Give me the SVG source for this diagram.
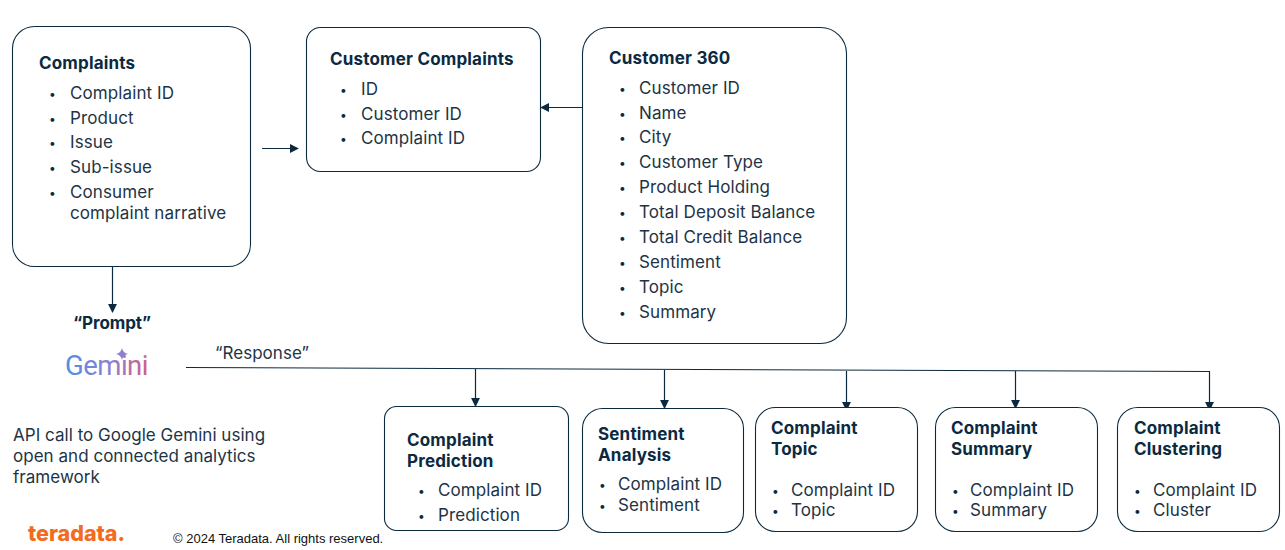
<svg xmlns="http://www.w3.org/2000/svg" width="1285" height="550" viewBox="0 0 1285 550">
<style>
text{font-family:Inter,"Noto Sans",sans-serif;fill:#1d3446;font-size:17px;letter-spacing:.1px}
.t{font-weight:700;fill:#0b2a3f;letter-spacing:.18px}
.d{font-size:12px;fill:#0b2a3f}
.n{letter-spacing:.03px}
.box{fill:#fff;stroke:#0b2a3f;stroke-width:1.1}
.c{fill:none;stroke:#0b2a3f;stroke-width:1.2}
</style>
<defs>
<marker id="a" viewBox="0 0 10 10" refX="9" refY="5" markerWidth="9" markerHeight="9" markerUnits="userSpaceOnUse" orient="auto"><path d="M0 0L10 5L0 10Z" fill="#0b2a3f"/></marker>
<linearGradient id="g" x1="0" x2="1" y1="0" y2="0"><stop offset="0" stop-color="#4f8fe0"/><stop offset=".55" stop-color="#8f7fd0"/><stop offset="1" stop-color="#d0607f"/></linearGradient>
</defs>
<g id="connectors">
<path class="c" d="M262 148.500H298" marker-end="url(#a)"/>
<path class="c" d="M582 107.500H541" marker-end="url(#a)"/>
<path class="c" d="M112.500 267V312" marker-end="url(#a)"/>
<path class="c" d="M186 367.500L1210 371.500"/>
<path class="c" d="M475.500 369V406" marker-end="url(#a)"/>
<path class="c" d="M664.500 370V408" marker-end="url(#a)"/>
<path class="c" d="M846.500 371V410" marker-end="url(#a)"/>
<path class="c" d="M1015.500 371V408" marker-end="url(#a)"/>
<path class="c" d="M1209.500 371V410" marker-end="url(#a)"/>
</g>
<g id="complaints"><rect class="box" x="12.500" y="26.500" width="238" height="240" rx="22"/>
<text class="t" x="39" y="69">Complaints</text>
<text class="d" x="49" y="98">•</text><text x="70" y="99">Complaint ID</text>
<text class="d" x="49" y="123">•</text><text x="70" y="124">Product</text>
<text class="d" x="49" y="147">•</text><text x="70" y="148">Issue</text>
<text class="d" x="49" y="172">•</text><text x="70" y="173">Sub-issue</text>
<text class="d" x="49" y="197">•</text><text x="70" y="198">Consumer</text>
<text x="70" y="219">complaint narrative</text></g>
<g id="customer-complaints"><rect class="box" x="306.500" y="27.500" width="234" height="144" rx="14"/>
<text class="t" x="330" y="65">Customer Complaints</text>
<text class="d" x="340" y="94">•</text><text x="361" y="95">ID</text>
<text class="d" x="340" y="119">•</text><text x="361" y="120">Customer ID</text>
<text class="d" x="340" y="143">•</text><text x="361" y="144">Complaint ID</text></g>
<g id="customer-360"><rect class="box" x="582.500" y="27.500" width="264" height="316" rx="26"/>
<text class="t" x="609" y="64">Customer 360</text>
<text class="d" x="619" y="93">•</text><text x="639" y="94">Customer ID</text>
<text class="d" x="619" y="118">•</text><text x="639" y="119">Name</text>
<text class="d" x="619" y="142">•</text><text x="639" y="143">City</text>
<text class="d" x="619" y="167">•</text><text x="639" y="168">Customer Type</text>
<text class="d" x="619" y="192">•</text><text x="639" y="193">Product Holding</text>
<text class="d" x="619" y="217">•</text><text x="639" y="218">Total Deposit Balance</text>
<text class="d" x="619" y="242">•</text><text x="639" y="243">Total Credit Balance</text>
<text class="d" x="619" y="267">•</text><text x="639" y="268">Sentiment</text>
<text class="d" x="619" y="292">•</text><text x="639" y="293">Topic</text>
<text class="d" x="619" y="317">•</text><text x="639" y="318">Summary</text></g>
<g id="prompt"><text class="t" x="112" y="329" text-anchor="middle" style="letter-spacing:-.1px">“Prompt”</text></g>
<g id="gemini"><text x="65" y="375" style="font-family:Roboto,sans-serif;font-size:27.500px;letter-spacing:-.5px;fill:url(#g)">Gemini</text>
<path d="M122 348Q123 353 128 354Q123 355 122 360Q121 355 116 354Q121 353 122 348Z" fill="#8f7fd0"/></g>
<g id="response"><text class="n" x="215" y="359">“Response”</text></g>
<g id="api-note"><text class="n" x="13" y="441">API call to Google Gemini using</text>
<text class="n" x="13" y="462">open and connected analytics</text>
<text class="n" x="13" y="483">framework</text></g>
<g id="complaint-prediction"><rect class="box" x="384.500" y="406.500" width="184" height="124" rx="12"/>
<text class="t" x="407" y="446">Complaint</text><text class="t" x="407" y="467">Prediction</text>
<text class="d" x="418" y="495">•</text><text x="438" y="496">Complaint ID</text>
<text class="d" x="418" y="520">•</text><text x="438" y="521">Prediction</text></g>
<g id="sentiment-analysis"><rect class="box" x="582.500" y="408.500" width="161" height="124" rx="20"/>
<text class="t" x="598" y="440">Sentiment</text><text class="t" x="598" y="461">Analysis</text>
<text class="d" x="599" y="489">•</text><text x="618" y="490">Complaint ID</text>
<text class="d" x="599" y="510">•</text><text x="618" y="511">Sentiment</text></g>
<g id="complaint-topic"><rect class="box" x="755.500" y="407.500" width="162" height="124" rx="20"/>
<text class="t" x="771" y="434">Complaint</text><text class="t" x="771" y="455">Topic</text>
<text class="d" x="772" y="495">•</text><text x="791" y="496">Complaint ID</text>
<text class="d" x="772" y="515">•</text><text x="791" y="516">Topic</text></g>
<g id="complaint-summary"><rect class="box" x="935.500" y="407.500" width="162" height="124" rx="20"/>
<text class="t" x="951" y="434">Complaint</text><text class="t" x="951" y="455">Summary</text>
<text class="d" x="952" y="495">•</text><text x="970" y="496">Complaint ID</text>
<text class="d" x="952" y="515">•</text><text x="970" y="516">Summary</text></g>
<g id="complaint-clustering"><rect class="box" x="1117.500" y="407.500" width="162" height="124" rx="20"/>
<text class="t" x="1134" y="434">Complaint</text><text class="t" x="1134" y="455">Clustering</text>
<text class="d" x="1134" y="495">•</text><text x="1153" y="496">Complaint ID</text>
<text class="d" x="1134" y="515">•</text><text x="1153" y="516">Cluster</text></g>
<g id="footer"><text x="28" y="541" style="font-size:21.500px;font-weight:800;letter-spacing:0;fill:#f26b21">teradata.</text>
<text x="173" y="543" style="font-family:'Liberation Sans',sans-serif;font-size:13px;letter-spacing:0;fill:#111">© 2024 Teradata. All rights reserved.</text></g>
</svg>
